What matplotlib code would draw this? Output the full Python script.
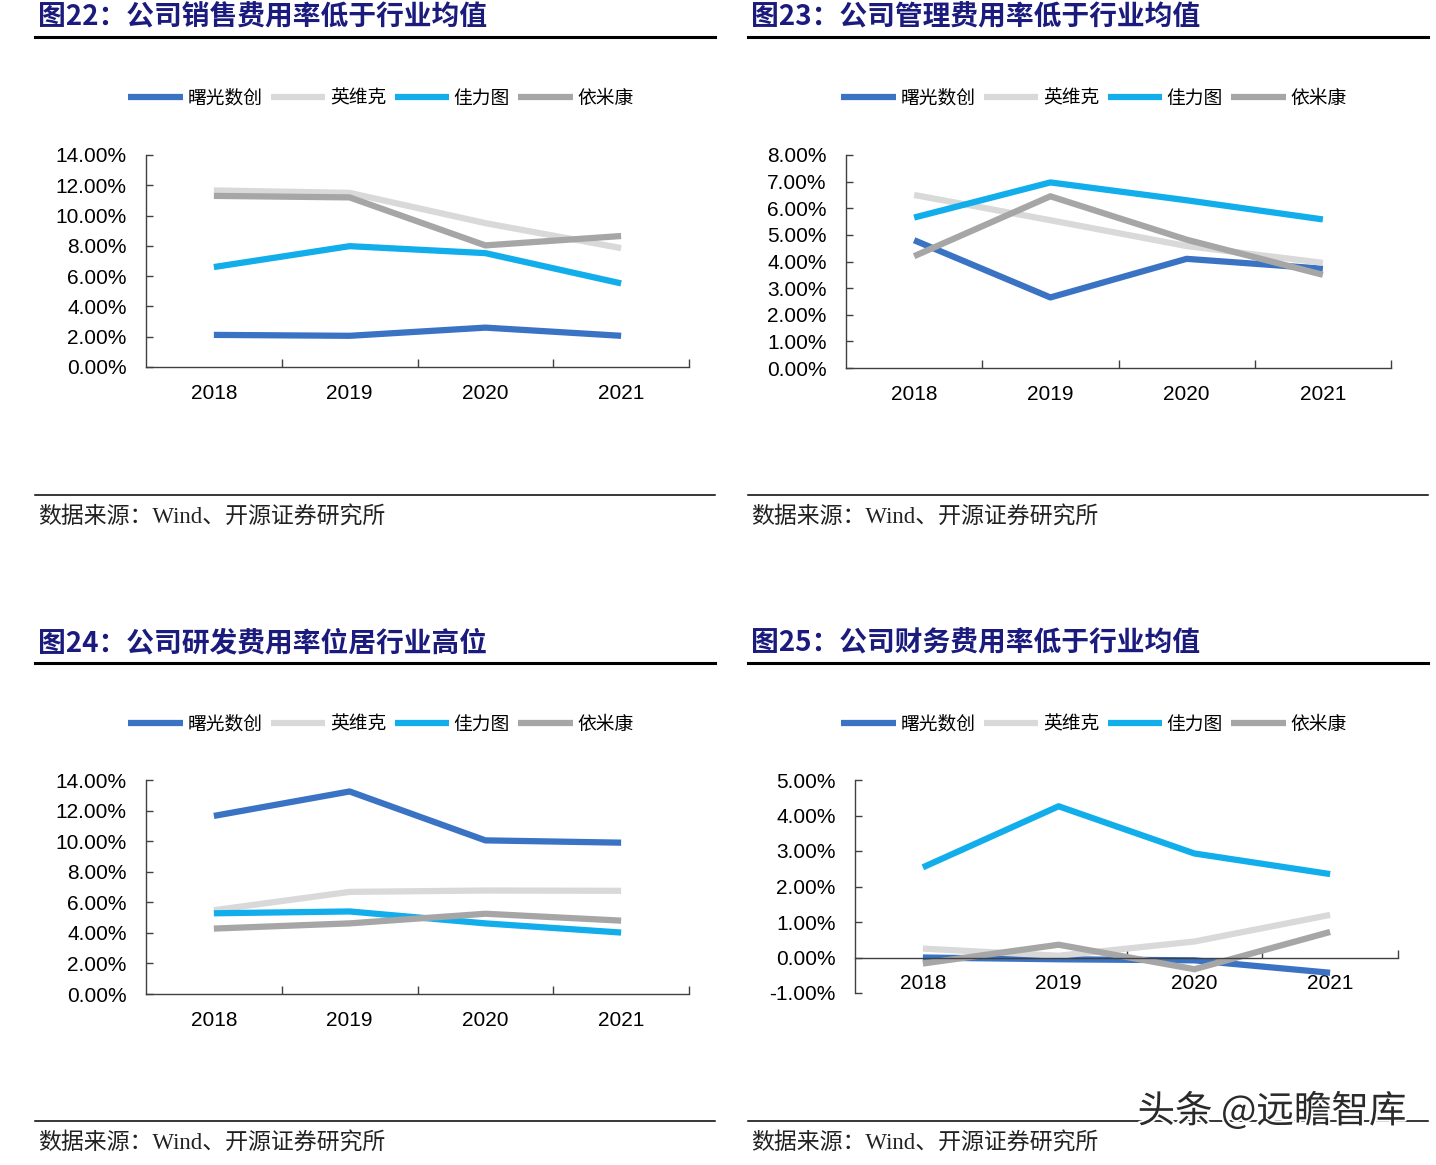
import numpy as np
import matplotlib.pyplot as plt
import matplotlib.patheffects as pe
from matplotlib.lines import Line2D
from matplotlib.ticker import FuncFormatter, FixedLocator

W, H = 1436, 1165

years = ["2018", "2019", "2020", "2021"]
names = ["曙光数创", "英维克", "佳力图", "依米康"]
colors = ["#3A72C4", "#D9D9D9", "#12AEEB", "#A6A6A6"]

# values in %
sales = {
    "曙光数创": [2.12, 2.06, 2.60, 2.06],
    "英维克": [11.66, 11.50, 9.50, 7.85],
    "佳力图": [6.60, 7.98, 7.52, 5.52],
    "依米康": [11.30, 11.20, 8.03, 8.65],
}
admin = {
    "曙光数创": [4.80, 2.65, 4.10, 3.73],
    "英维克": [6.50, 5.55, 4.58, 3.95],
    "佳力图": [5.65, 6.97, 6.30, 5.58],
    "依米康": [4.20, 6.45, 4.82, 3.50],
}
rnd = {
    "曙光数创": [11.65, 13.25, 10.05, 9.90],
    "英维克": [5.48, 6.68, 6.77, 6.75],
    "佳力图": [5.28, 5.40, 4.62, 4.02],
    "依米康": [4.28, 4.62, 5.25, 4.80],
}
finance = {
    "曙光数创": [0.00, -0.05, -0.08, -0.43],
    "英维克": [0.25, 0.05, 0.45, 1.20],
    "佳力图": [2.54, 4.26, 2.93, 2.35],
    "依米康": [-0.17, 0.36, -0.33, 0.72],
}

titles = ["图22：公司销售费用率低于行业均值", "图23：公司管理费用率低于行业均值",
          "图24：公司研发费用率位居行业高位", "图25：公司财务费用率低于行业均值"]
source = "数据来源：Wind、开源证券研究所"

plt.rcParams["font.family"] = ["Liberation Sans", "Noto Sans CJK SC"]

fig = plt.figure(figsize=(W / 100, H / 100), dpi=100)


def fx(x):
    return x / W


def fy(y):
    return 1 - y / H


def rect(l, t, r, b):
    return [fx(l), fy(b), fx(r - l), fy(t) - fy(b)]


# panel: (x0 of frame, y0 of frame, axes rect, data, ylim, yticks, axis at zero)
panels = [
    (35, 0, (146, 155, 689, 367), sales, (0, 14), np.arange(0, 15, 2), False),
    (748, 0, (846, 155, 1391, 368), admin, (0, 8), np.arange(0, 9, 1), False),
    (35, 626, (146, 780, 689, 994), rnd, (0, 14), np.arange(0, 15, 2), False),
    (748, 626, (855, 780, 1398, 993), finance, (-1, 5), np.arange(-1, 6, 1), True),
]

for i, (px, py, r, data, ylim, yt, zero_axis) in enumerate(panels):
    # header
    fig.text(fx(px + 3), fy(py + 17), titles[i], fontsize=20, fontweight="bold",
             color="#1B1B7E", va="center", ha="left", family=["Noto Sans CJK SC"])
    fig.add_artist(Line2D([fx(px), fx(px + 680)], [fy(py + 37), fy(py + 37)],
                          color="black", lw=2.2))
    fig.add_artist(Line2D([fx(px), fx(px + 680)], [fy(py + 495), fy(py + 495)],
                          color="black", lw=1.1))
    fig.text(fx(px + 3), fy(py + 518), source, fontsize=16.5, va="center", ha="left",
             family=["Liberation Serif", "Noto Sans CJK SC"], color="#222222")

    ax = fig.add_axes(rect(*r))
    x = np.arange(len(years))
    for n, c in zip(names, colors):
        ax.plot(x, data[n], color=c, lw=4.5, label=n, solid_capstyle="butt")
    ax.set_xlim(-0.5, 3.5)
    ax.set_ylim(*ylim)
    ax.set_yticks(yt)
    ax.yaxis.set_major_formatter(FuncFormatter(lambda v, p: f"{v:.2f}%"))
    ax.set_xticks(x)
    ax.set_xticklabels(years)
    ax.xaxis.set_minor_locator(FixedLocator([0.5, 1.5, 2.5, 3.5]))
    for s in ["top", "right"]:
        ax.spines[s].set_visible(False)
    if zero_axis:
        ax.spines["bottom"].set_position(("data", 0))
    for s in ["left", "bottom"]:
        ax.spines[s].set_color("#404040")
        ax.spines[s].set_linewidth(1.0)
    ax.tick_params(axis="y", direction="in", length=5, width=1.0, color="#404040",
                   labelsize=15, pad=14, labelcolor="black")
    ax.tick_params(axis="x", which="major", length=0, labelsize=15, pad=12)
    ax.tick_params(axis="x", which="minor", direction="in", length=6, width=1.0,
                   color="#404040")
    ax.set_facecolor("none")

    fig.legend(*ax.get_legend_handles_labels(), loc="center",
               bbox_to_anchor=(fx(px + 346), fy(py + 98)), ncol=4, frameon=False,
               handlelength=2.9, handletextpad=0.25, columnspacing=0.45,
               prop={"family": ["Noto Sans CJK SC"], "size": 13.5})

# watermark
fig.text(fx(1272), fy(1112), "头条 @远瞻智库", fontsize=27, ha="center", va="center",
         color="#2a2a2a", family=["Noto Sans CJK SC"],
         path_effects=[pe.withStroke(linewidth=3, foreground="white")])

fig.savefig("out.png", dpi=100)
